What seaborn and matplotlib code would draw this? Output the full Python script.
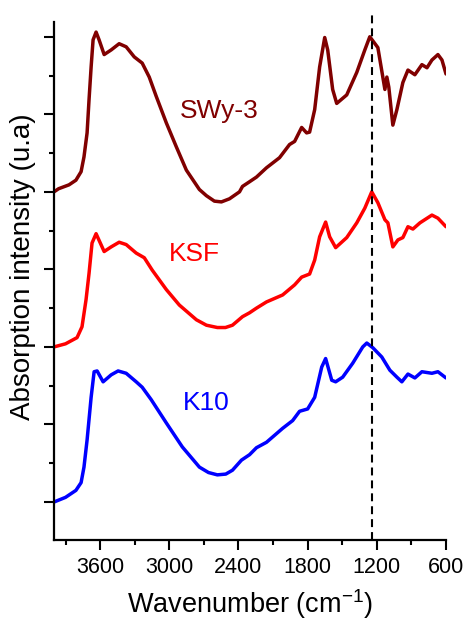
import matplotlib
matplotlib.use("Agg")
import matplotlib.pyplot as plt
from matplotlib.ticker import MultipleLocator, NullFormatter
import seaborn as sns
import pandas as pd

# ---- data (wavenumber cm-1, offset absorbance a.u.) ----
swy_wn = [4000, 3960, 3870, 3810, 3765, 3740, 3713, 3696, 3678, 3661, 3635, 3609,
          3565, 3504, 3435, 3374, 3304, 3235, 3174, 3113, 3026, 2939, 2852, 2739,
          2678, 2609, 2548, 2478, 2391, 2365, 2304, 2244, 2157, 2044, 1957, 1913,
          1852, 1809, 1783, 1739, 1696, 1652, 1626, 1583, 1548, 1461, 1374, 1304,
          1261, 1191, 1148, 1130, 1113, 1096, 1061, 1026, 974, 930, 870, 809, 765,
          722, 670, 635, 600]
swy_int = [4.00, 4.04, 4.09, 4.15, 4.26, 4.45, 4.76, 5.19, 5.61, 5.96, 6.06, 5.96,
           5.77, 5.83, 5.91, 5.87, 5.74, 5.66, 5.48, 5.23, 4.89, 4.58, 4.28, 4.03,
           3.95, 3.88, 3.87, 3.91, 4.00, 4.07, 4.13, 4.19, 4.31, 4.44, 4.61, 4.65,
           4.83, 4.76, 4.77, 5.06, 5.61, 5.99, 5.83, 5.32, 5.14, 5.25, 5.54, 5.83,
           6.00, 5.86, 5.48, 5.32, 5.48, 5.35, 4.86, 5.06, 5.41, 5.57, 5.51, 5.64,
           5.60, 5.70, 5.77, 5.70, 5.52]

ksf_wn = [4000, 3900, 3800, 3757, 3722, 3696, 3670, 3635, 3565, 3504, 3435, 3374,
          3287, 3217, 3148, 3026, 2913, 2765, 2678, 2583, 2513, 2452, 2365, 2304,
          2244, 2157, 2017, 1913, 1852, 1783, 1739, 1696, 1644, 1609, 1557, 1461,
          1374, 1304, 1244, 1191, 1130, 1104, 1061, 1017, 974, 930, 887, 826, 722,
          670, 600]
ksf_int = [2.00, 2.04, 2.12, 2.26, 2.61, 2.95, 3.34, 3.46, 3.23, 3.29, 3.35, 3.32,
           3.21, 3.15, 2.99, 2.74, 2.54, 2.35, 2.28, 2.25, 2.25, 2.28, 2.39, 2.44,
           2.50, 2.58, 2.67, 2.80, 2.90, 2.94, 3.12, 3.42, 3.61, 3.42, 3.28, 3.41,
           3.60, 3.79, 4.00, 3.86, 3.64, 3.60, 3.29, 3.38, 3.41, 3.55, 3.52, 3.60,
           3.70, 3.66, 3.55]

k10_wn = [4000, 3900, 3810, 3765, 3740, 3713, 3678, 3652, 3626, 3574, 3504, 3444,
          3374, 3287, 3235, 3157, 3026, 2887, 2739, 2660, 2583, 2510, 2452, 2374,
          2304, 2244, 2157, 2017, 1930, 1870, 1800, 1739, 1678, 1644, 1591, 1557,
          1496, 1409, 1322, 1287, 1235, 1157, 1087, 1026, 983, 930, 870, 809, 722,
          670, 600]
k10_int = [0.00, 0.06, 0.15, 0.25, 0.45, 0.80, 1.35, 1.68, 1.69, 1.55, 1.64, 1.69,
           1.66, 1.55, 1.48, 1.32, 1.02, 0.71, 0.45, 0.38, 0.35, 0.36, 0.41, 0.54,
           0.61, 0.70, 0.77, 0.95, 1.05, 1.17, 1.20, 1.35, 1.74, 1.85, 1.57, 1.55,
           1.61, 1.79, 2.00, 2.05, 1.99, 1.87, 1.70, 1.61, 1.55, 1.65, 1.60, 1.68,
           1.66, 1.68, 1.60]

samples = ["SWy-3", "KSF", "K10"]
colors = {"SWy-3": "#800000", "KSF": "#FF0000", "K10": "#0000FF"}
# label anchor (wavenumber, intensity) for sample names
label_pos = {"SWy-3": (2570, 4.95), "KSF": (2783, 3.11), "K10": (2683, 1.19)}
ref_line_wn = 1240
x_ticks = [3600, 3000, 2400, 1800, 1200, 600]

frames = []
for name, wn, it in [("SWy-3", swy_wn, swy_int), ("KSF", ksf_wn, ksf_int), ("K10", k10_wn, k10_int)]:
    frames.append(pd.DataFrame({"wn": wn, "I": it, "sample": name}))
df = pd.concat(frames, ignore_index=True)

sns.set_style("ticks")
plt.rcParams["font.family"] = ["Liberation Sans", "DejaVu Sans"]
plt.rcParams.update({"text.color": "black", "axes.labelcolor": "black",
                     "xtick.color": "black", "ytick.color": "black"})

fig = plt.figure(figsize=(4.66, 6.23), dpi=100)
ax = fig.add_axes([54 / 466, (623 - 540) / 623, (446 - 54) / 466, (540 - 22) / 623])

sns.lineplot(data=df, x="wn", y="I", hue="sample", palette=colors, hue_order=samples,
             estimator=None, sort=False, linewidth=2.5, legend=False, ax=ax)
for line in ax.get_lines():
    line.set_solid_joinstyle("round")
    line.set_solid_capstyle("round")

ax.axvline(ref_line_wn, ymin=0, ymax=1.02, color="black", lw=1.5,
           dashes=(3.8, 2.4), clip_on=False)

for name in samples:
    x, y = label_pos[name]
    ax.text(x, y, name, color=colors[name], fontsize=19, ha="center", va="baseline")

ax.set_xlim(4000, 600)
ax.set_ylim(-0.49, 6.19)
ax.set_xticks(x_ticks)
ax.set_xticklabels([str(t) for t in x_ticks])
ax.xaxis.set_minor_locator(MultipleLocator(300))
ax.yaxis.set_major_locator(MultipleLocator(1))
ax.yaxis.set_minor_locator(MultipleLocator(0.5))
ax.yaxis.set_major_formatter(NullFormatter())

ax.tick_params(axis="both", which="major", direction="out", length=7, width=1.5,
               labelsize=15.5, pad=5, color="black", labelcolor="black")
ax.tick_params(axis="both", which="minor", direction="out", length=3.8, width=1.5,
               color="black")

for side in ["top", "right"]:
    ax.spines[side].set_visible(False)
for side in ["left", "bottom"]:
    ax.spines[side].set_linewidth(1.6)
    ax.spines[side].set_color("black")

ax.set_xlabel("Wavenumber (cm$^{\\mathregular{-1}}$)", fontsize=19.5, labelpad=7,
              color="black")
ax.set_ylabel("Absorption intensity (u.a)", fontsize=20, color="black")
ax.yaxis.set_label_coords(-0.045, 0.527)

fig.savefig("out.png", dpi=100)
